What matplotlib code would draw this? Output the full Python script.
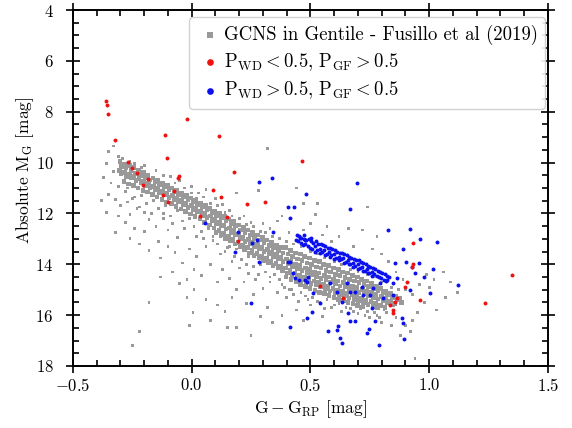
import numpy as np
import matplotlib.pyplot as plt
from matplotlib.ticker import MultipleLocator

plt.rcParams['font.family'] = 'cmr10'
plt.rcParams['mathtext.fontset'] = 'cm'
plt.rcParams['axes.formatter.use_mathtext'] = True
plt.rcParams['font.size'] = 12

# GCNS sample - dense main band (colour, abs mag)
gcns_core = [
    (-0.302, 9.95), (-0.296, 10.15), (-0.305, 10.30), (-0.298, 10.45),
    (-0.284, 10.05), (-0.276, 10.22), (-0.282, 10.38), (-0.275, 10.55), (-0.286, 10.75),
    (-0.263, 10.12), (-0.255, 10.30), (-0.261, 10.47), (-0.254, 10.60), (-0.265, 10.85),
    (-0.243, 10.20), (-0.236, 10.42), (-0.244, 10.55), (-0.235, 10.70), (-0.246, 10.90),
    (-0.224, 10.32), (-0.215, 10.50), (-0.222, 10.62), (-0.214, 10.80), (-0.226, 11.00),
    (-0.203, 10.40), (-0.196, 10.58), (-0.204, 10.73), (-0.194, 10.90), (-0.206, 11.10),
    (-0.184, 10.50), (-0.176, 10.68), (-0.183, 10.82), (-0.175, 10.98), (-0.186, 11.15),
    (-0.163, 10.60), (-0.155, 10.77), (-0.162, 10.93), (-0.154, 11.08), (-0.166, 11.25),
    (-0.143, 10.70), (-0.136, 10.86), (-0.144, 11.02), (-0.135, 11.18), (-0.146, 11.35),
    (-0.124, 10.80), (-0.115, 10.95), (-0.122, 11.12), (-0.114, 11.27), (-0.125, 11.45),
    (-0.103, 10.90), (-0.096, 11.05), (-0.104, 11.20), (-0.095, 11.37), (-0.106, 11.55),
    (-0.084, 11.00), (-0.075, 11.15), (-0.082, 11.30), (-0.074, 11.47), (-0.085, 11.62),
    (-0.063, 11.10), (-0.056, 11.25), (-0.064, 11.40), (-0.055, 11.55), (-0.066, 11.72),
    (-0.044, 11.20), (-0.035, 11.35), (-0.042, 11.50), (-0.034, 11.65), (-0.045, 11.82),
    (-0.023, 11.30), (-0.016, 11.45), (-0.024, 11.60), (-0.015, 11.76), (-0.026, 11.92),
    (-0.004, 11.40), (0.005, 11.55), (-0.002, 11.70), (0.006, 11.85), (-0.005, 12.02),
    (0.017, 11.50), (0.024, 11.65), (0.016, 11.80), (0.025, 11.95), (0.014, 12.12),
    (0.036, 11.60), (0.045, 11.75), (0.038, 11.90), (0.046, 12.07), (0.035, 12.22),
    (0.057, 11.70), (0.064, 11.86), (0.056, 12.00), (0.065, 12.17), (0.054, 12.35),
    (0.076, 11.80), (0.085, 11.96), (0.078, 12.10), (0.086, 12.27), (0.075, 12.45),
    (0.097, 11.90), (0.104, 12.08), (0.096, 12.25), (0.105, 12.40), (0.094, 12.58), (0.102, 12.75),
    (0.116, 12.00), (0.125, 12.18), (0.118, 12.35), (0.126, 12.50), (0.115, 12.68), (0.123, 12.85),
    (0.137, 12.12), (0.144, 12.30), (0.136, 12.48), (0.145, 12.62), (0.134, 12.80), (0.142, 12.98),
    (0.156, 12.22), (0.165, 12.40), (0.158, 12.58), (0.166, 12.75), (0.155, 12.90), (0.163, 13.08),
    (0.177, 12.32), (0.184, 12.50), (0.176, 12.68), (0.185, 12.85), (0.174, 13.02), (0.182, 13.20),
    (0.196, 12.45), (0.205, 12.65), (0.198, 12.82), (0.206, 12.98), (0.195, 13.15), (0.203, 13.32),
    (0.217, 12.55), (0.224, 12.75), (0.216, 12.92), (0.225, 13.10), (0.214, 13.25), (0.222, 13.42),
    (0.236, 12.65), (0.245, 12.85), (0.238, 13.02), (0.246, 13.20), (0.235, 13.35), (0.243, 13.55),
    (0.257, 12.75), (0.264, 12.95), (0.256, 13.12), (0.265, 13.30), (0.254, 13.47), (0.262, 13.65),
    (0.276, 12.85), (0.285, 13.05), (0.278, 13.22), (0.286, 13.40), (0.275, 13.57), (0.283, 13.75),
    (0.297, 12.95), (0.304, 13.15), (0.296, 13.32), (0.305, 13.50), (0.294, 13.67), (0.302, 13.85),
    (0.316, 13.05), (0.325, 13.25), (0.318, 13.42), (0.326, 13.60), (0.315, 13.77), (0.323, 13.95),
    (0.337, 13.15), (0.344, 13.35), (0.336, 13.52), (0.345, 13.70), (0.334, 13.87), (0.342, 14.05),
    (0.356, 13.25), (0.365, 13.45), (0.358, 13.62), (0.366, 13.80), (0.355, 13.97), (0.363, 14.15),
    (0.377, 13.35), (0.384, 13.55), (0.376, 13.72), (0.385, 13.90), (0.374, 14.07), (0.382, 14.25),
    (0.396, 13.35), (0.405, 13.60), (0.398, 13.80), (0.406, 13.98), (0.395, 14.15), (0.403, 14.35), (0.397, 14.50),
    (0.417, 13.45), (0.424, 13.70), (0.416, 13.90), (0.425, 14.08), (0.414, 14.25), (0.422, 14.45), (0.418, 14.60),
    (0.436, 13.55), (0.445, 13.80), (0.438, 14.00), (0.446, 14.18), (0.435, 14.35), (0.443, 14.52), (0.439, 14.70),
    (0.457, 13.60), (0.464, 13.85), (0.456, 14.05), (0.465, 14.25), (0.454, 14.42), (0.462, 14.60), (0.458, 14.80),
    (0.476, 13.70), (0.485, 13.95), (0.478, 14.15), (0.486, 14.32), (0.475, 14.50), (0.483, 14.68), (0.479, 14.88),
    (0.497, 13.75), (0.504, 14.00), (0.496, 14.20), (0.505, 14.40), (0.494, 14.58), (0.502, 14.75), (0.498, 14.95),
    (0.516, 13.85), (0.525, 14.10), (0.518, 14.30), (0.526, 14.48), (0.515, 14.65), (0.523, 14.82), (0.519, 15.02),
    (0.537, 13.90), (0.544, 14.15), (0.536, 14.35), (0.545, 14.55), (0.534, 14.72), (0.542, 14.90), (0.538, 15.10),
    (0.556, 14.00), (0.565, 14.25), (0.558, 14.45), (0.566, 14.62), (0.555, 14.80), (0.563, 14.97), (0.559, 15.15),
    (0.577, 14.05), (0.584, 14.30), (0.576, 14.50), (0.585, 14.70), (0.574, 14.87), (0.582, 15.05), (0.578, 15.22),
    (0.596, 14.15), (0.605, 14.40), (0.598, 14.60), (0.606, 14.77), (0.595, 14.95), (0.603, 15.12), (0.599, 15.30),
    (0.617, 14.20), (0.624, 14.45), (0.616, 14.65), (0.625, 14.85), (0.614, 15.02), (0.622, 15.20), (0.618, 15.38),
    (0.636, 14.30), (0.645, 14.52), (0.638, 14.72), (0.646, 14.90), (0.635, 15.08), (0.643, 15.25), (0.639, 15.42),
    (0.657, 14.35), (0.664, 14.60), (0.656, 14.80), (0.665, 14.97), (0.654, 15.15), (0.662, 15.32), (0.658, 15.50),
    (0.676, 14.45), (0.685, 14.65), (0.678, 14.85), (0.686, 15.03), (0.675, 15.20), (0.683, 15.38), (0.679, 15.55),
    (0.697, 14.50), (0.704, 14.72), (0.696, 14.92), (0.705, 15.10), (0.694, 15.27), (0.702, 15.45), (0.698, 15.62),
    (0.716, 14.60), (0.725, 14.80), (0.718, 15.00), (0.726, 15.17), (0.715, 15.35), (0.723, 15.52), (0.719, 15.68),
    (0.737, 14.65), (0.744, 14.88), (0.736, 15.05), (0.745, 15.22), (0.734, 15.40), (0.742, 15.58),
    (0.756, 14.75), (0.765, 14.95), (0.758, 15.12), (0.766, 15.30), (0.755, 15.47), (0.763, 15.65),
    (0.777, 14.85), (0.784, 15.02), (0.776, 15.20), (0.785, 15.37), (0.774, 15.55), (0.782, 15.72),
    (0.796, 14.95), (0.805, 15.10), (0.798, 15.27), (0.806, 15.45), (0.795, 15.62),
    (0.817, 15.05), (0.824, 15.20), (0.816, 15.35), (0.825, 15.52), (0.814, 15.70),
    (0.836, 15.15), (0.845, 15.30), (0.838, 15.45), (0.846, 15.60),
    (0.857, 15.25), (0.864, 15.40), (0.856, 15.55),
    (0.876, 15.35), (0.884, 15.50),
]

# GCNS sample - sparse scatter around the band
gcns_halo = [
    (-0.35, 9.55), (-0.33, 9.35), (-0.31, 9.75), (-0.36, 10.05), (-0.29, 9.85), (-0.26, 9.95),
    (-0.24, 10.05), (-0.21, 10.20), (-0.33, 10.35), (-0.37, 10.60), (-0.34, 10.80), (-0.31, 10.95),
    (-0.28, 11.15), (-0.35, 11.25), (-0.38, 11.50), (-0.32, 11.45), (-0.27, 11.55), (-0.30, 11.70),
    (-0.24, 11.35), (-0.22, 11.75), (-0.36, 11.95), (-0.31, 12.10), (-0.26, 12.05), (-0.20, 11.95),
    (-0.18, 12.25), (-0.28, 12.35), (-0.24, 12.60), (-0.32, 12.75), (-0.20, 12.70), (-0.15, 12.50),
    (-0.12, 12.20), (-0.10, 12.65), (-0.26, 13.00), (-0.22, 13.20), (-0.18, 13.45), (-0.14, 13.10),
    (-0.10, 13.30), (-0.06, 12.95), (-0.13, 13.75), (-0.07, 13.55), (-0.04, 13.95), (-0.01, 13.40),
    (0.02, 13.70), (-0.18, 15.50), (-0.13, 14.50), (-0.08, 14.30), (-0.05, 14.75), (-0.02, 14.60),
    (0.01, 14.20), (0.04, 14.45), (-0.02, 15.30), (0.01, 15.00), (0.06, 15.40), (0.005, 15.90),
    (-0.01, 16.40), (0.08, 16.20), (0.11, 15.60), (0.14, 15.85), (0.19, 16.50), (-0.22, 16.65),
    (-0.25, 17.20), (0.15, 16.50), (0.25, 16.80), (0.34, 16.30), (0.29, 16.05),
    (0.06, 13.30), (0.09, 13.05), (0.12, 13.60), (0.15, 13.35), (0.08, 14.00), (0.13, 14.20),
    (0.17, 13.90), (0.20, 14.15), (0.11, 14.70), (0.16, 14.55), (0.19, 15.00), (0.17, 15.30),
    (0.22, 14.70), (0.24, 14.35), (0.27, 14.60), (0.23, 15.55), (0.26, 15.20), (0.30, 14.95),
    (0.32, 15.70), (0.36, 15.10), (0.33, 14.50), (0.38, 14.80), (0.40, 15.30), (0.42, 15.00),
    (0.45, 15.45), (0.48, 15.25), (0.50, 15.60), (0.44, 15.80), (0.53, 15.45), (0.56, 15.75),
    (0.60, 15.60), (0.63, 15.85), (0.67, 15.75), (0.70, 15.95), (0.74, 15.85), (0.78, 16.00),
    (0.55, 16.05), (0.47, 16.20), (0.38, 16.00), (0.82, 15.90), (0.86, 16.10),
    (-0.05, 10.70), (0.00, 10.95), (0.03, 11.20), (0.06, 11.05), (0.10, 11.40), (0.13, 11.65),
    (0.16, 11.90), (0.19, 11.20), (0.22, 12.10), (0.25, 12.35), (0.28, 11.10), (0.30, 12.40),
    (0.33, 12.60), (0.36, 12.30), (0.38, 12.10), (0.41, 12.75), (0.44, 11.00), (0.47, 12.65),
    (0.50, 12.40), (0.53, 11.60), (0.55, 12.85), (0.57, 12.50), (0.59, 13.10), (0.62, 12.90),
    (0.66, 12.60), (0.68, 13.30), (0.72, 12.65), (0.74, 11.75), (0.76, 13.40), (0.78, 12.90),
    (0.80, 13.60), (0.83, 13.90), (0.32, 9.45), (0.47, 11.60), (0.52, 12.05),
    (0.86, 14.30), (0.89, 14.60), (0.90, 15.00), (0.93, 15.20), (0.96, 14.80), (0.98, 15.50),
    (1.00, 14.90), (1.03, 15.80), (1.06, 14.30), (1.07, 15.30), (1.12, 15.10), (0.95, 15.90),
    (0.93, 16.20), (0.92, 16.65), (0.94, 17.70), (0.90, 16.40), (0.88, 16.80), (0.99, 14.40),
    (1.02, 14.60), (1.09, 14.70), (0.84, 16.40), (0.80, 16.30), (0.75, 16.10),
    # fainter side of the band
    (-0.27, 11.00), (-0.25, 11.40), (-0.23, 11.80), (-0.21, 11.30), (-0.19, 11.60), (-0.17, 12.00),
    (-0.16, 11.50), (-0.14, 11.80), (-0.12, 12.00), (-0.11, 11.70), (-0.09, 12.10), (-0.08, 12.40),
    (-0.06, 11.90), (-0.04, 12.30), (-0.03, 12.60), (-0.01, 12.20), (0.01, 12.50), (0.02, 12.90),
    (0.04, 12.70), (0.05, 13.00), (0.07, 12.60), (0.09, 12.90), (0.11, 13.20), (0.12, 12.90),
    (0.14, 13.50), (0.16, 13.30), (0.18, 13.70), (0.19, 13.40), (0.21, 13.80), (0.23, 14.00),
    (0.24, 13.70), (0.26, 14.10), (0.28, 14.40), (0.29, 14.00), (0.31, 14.30), (0.33, 14.70),
    (0.35, 14.40), (0.37, 14.60), (0.39, 14.90), (0.41, 15.00), (0.43, 15.20), (0.46, 15.10),
    (0.49, 15.40), (0.51, 15.30), (0.54, 15.50), (0.57, 15.40), (0.59, 15.70), (0.62, 15.55),
    (0.65, 15.70), (0.68, 15.85), (0.71, 15.75), (0.73, 16.00), (0.77, 15.90), (0.79, 16.10),
    (0.81, 15.80),
    # brighter side of the band
    (-0.20, 10.10), (-0.15, 10.30), (-0.12, 10.50), (-0.09, 10.55), (-0.07, 10.80), (-0.03, 11.00),
    (0.00, 11.20), (0.02, 11.40), (0.05, 11.35), (0.08, 11.60), (0.11, 11.70), (0.14, 11.95),
    (0.17, 12.10), (0.20, 12.20), (0.23, 12.45), (0.26, 12.50), (0.29, 12.70), (0.31, 12.75),
    (0.34, 12.90), (0.37, 13.00), (0.40, 13.10), (0.43, 13.20), (0.46, 13.30), (0.50, 13.50),
    (0.53, 13.60), (0.56, 13.75), (0.60, 13.90), (0.63, 14.00), (0.67, 14.20), (0.70, 14.30),
    (0.74, 14.40), (0.77, 14.50), (0.80, 14.70), (0.84, 14.90), (0.87, 15.00),
]

# P_WD < 0.5, P_GF > 0.5
red_pts = [
    (-0.361, 7.58), (-0.358, 7.74), (-0.353, 8.07), (-0.323, 9.11), (-0.020, 8.29),
    (-0.113, 8.92), (0.115, 8.95), (-0.104, 9.82), (0.178, 10.37), (-0.268, 9.98),
    (-0.252, 10.21), (-0.231, 10.41), (-0.184, 10.65), (-0.054, 10.53), (-0.058, 10.61),
    (-0.205, 10.88), (-0.075, 11.12), (0.089, 11.08), (-0.121, 11.27), (-0.100, 11.55),
    (0.123, 11.35), (0.233, 11.63), (0.308, 11.55), (0.035, 12.10), (0.148, 12.14),
    (0.195, 13.08), (0.464, 9.94), (0.540, 14.87), (0.637, 15.33), (0.932, 13.16),
    (0.927, 14.11), (0.932, 13.98), (0.906, 14.70), (0.898, 14.89), (0.864, 15.33),
    (0.856, 15.48), (0.835, 15.60), (0.847, 15.80), (0.847, 15.92), (0.961, 15.40),
    (1.348, 14.42), (1.235, 15.52),
]

# P_WD > 0.5, P_GF < 0.5
blue_pts = [
    (0.338, 10.61), (0.283, 10.76), (0.696, 10.80), (0.481, 11.24), (0.405, 11.75),
    (0.431, 11.75), (0.666, 11.83), (0.414, 12.18), (0.826, 12.65), (0.919, 12.61),
    (0.961, 13.01), (1.033, 13.12), (0.889, 13.40), (0.856, 13.95), (0.902, 13.91),
    (0.957, 13.95), (1.016, 14.18), (0.978, 14.50), (1.121, 14.81), (1.003, 15.13),
    (0.919, 15.01), (0.864, 14.54), (0.847, 14.74), (0.927, 14.11), (0.940, 14.34),
    (0.056, 12.38), (0.195, 12.73), (0.182, 13.52), (0.254, 13.16), (0.275, 13.04),
    (0.283, 13.91), (0.342, 12.73), (0.405, 13.91), (0.456, 12.97), (0.477, 13.04),
    (0.414, 13.91), (0.426, 14.34), (0.452, 14.62), (0.477, 14.62), (0.489, 14.50),
    (0.249, 15.52), (0.414, 16.47), (0.485, 16.11), (0.506, 15.88), (0.540, 15.52),
    (0.574, 16.62), (0.616, 16.43), (0.612, 16.58), (0.624, 16.90), (0.633, 17.09),
    (0.658, 15.91), (0.666, 16.23), (0.687, 16.23), (0.738, 16.70), (0.746, 16.54),
    (0.772, 16.23), (0.759, 15.72), (0.788, 17.17), (0.885, 16.11), (0.889, 16.31),
    (0.894, 16.94), (0.805, 15.33), (0.847, 15.21), (0.511, 15.13), (0.582, 14.74),
    (0.612, 15.09), (0.633, 15.48), (0.666, 15.09), (0.687, 15.09), (0.717, 14.89),
    (0.721, 15.21), (0.751, 15.21), (0.763, 14.93), (0.793, 14.74), (0.822, 14.62),
    (0.654, 14.74), (0.435, 14.54), (0.485, 14.70),
    # the dense blue clump
    (0.442, 12.85), (0.438, 13.05), (0.452, 12.90), (0.449, 13.10), (0.462, 12.95),
    (0.458, 13.15), (0.473, 13.00), (0.468, 13.25), (0.471, 12.85), (0.482, 13.05),
    (0.478, 13.20), (0.492, 13.00), (0.488, 13.30), (0.503, 13.10), (0.498, 13.35),
    (0.501, 12.95), (0.512, 13.15), (0.508, 13.40), (0.523, 13.10), (0.518, 13.30),
    (0.521, 13.50), (0.532, 13.20), (0.528, 13.45), (0.543, 13.20), (0.538, 13.40),
    (0.541, 13.55), (0.552, 13.25), (0.548, 13.50), (0.563, 13.30), (0.558, 13.45),
    (0.561, 13.65), (0.572, 13.35), (0.568, 13.60), (0.583, 13.35), (0.578, 13.50),
    (0.581, 13.70), (0.592, 13.40), (0.588, 13.65), (0.603, 13.45), (0.598, 13.60),
    (0.601, 13.80), (0.612, 13.50), (0.608, 13.75), (0.623, 13.55), (0.618, 13.70),
    (0.621, 13.85), (0.632, 13.55), (0.628, 13.80), (0.643, 13.60), (0.638, 13.75),
    (0.641, 13.95), (0.652, 13.65), (0.648, 13.90), (0.663, 13.70), (0.658, 13.85),
    (0.661, 14.00), (0.672, 13.75), (0.668, 14.00), (0.683, 13.80), (0.678, 13.95),
    (0.681, 14.10), (0.692, 13.85), (0.688, 14.05), (0.703, 13.85), (0.698, 14.00),
    (0.701, 14.20), (0.712, 13.90), (0.708, 14.15), (0.723, 13.95), (0.718, 14.10),
    (0.721, 14.25), (0.732, 14.00), (0.728, 14.25), (0.743, 14.05), (0.738, 14.20),
    (0.741, 14.35), (0.752, 14.10), (0.748, 14.35), (0.763, 14.15), (0.758, 14.30),
    (0.761, 14.45), (0.772, 14.20), (0.768, 14.40), (0.783, 14.25), (0.778, 14.45),
    (0.792, 14.30), (0.788, 14.50), (0.803, 14.35), (0.798, 14.55), (0.812, 14.40),
    (0.808, 14.60), (0.823, 14.45), (0.818, 14.65), (0.831, 14.50),
]

core = np.array(gcns_core)
halo = np.array(gcns_halo)
gcns = np.vstack([core, halo])
gcns_sizes = np.r_[np.full(len(core), 11.0), np.full(len(halo), 4.0)]
red = np.array(red_pts)
blue = np.array(blue_pts)

fig = plt.figure(figsize=(5.72, 4.28), dpi=100)
ax = fig.add_axes([0.1276, 0.1449, 0.8304, 0.8317])

ax.scatter(gcns[:, 0], gcns[:, 1], marker='s', s=gcns_sizes, color='#999999', linewidths=0,
           label='GCNS in Gentile - Fusillo et al (2019)', zorder=1)
ax.scatter(red[:, 0], red[:, 1], marker='o', s=8, color='#ee1111', linewidths=0,
           label=r'$\mathrm{P_{WD}} < 0.5$, $\mathrm{P_{GF}} > 0.5$', zorder=3)
ax.scatter(blue[:, 0], blue[:, 1], marker='o', s=8, color='#0a10ee', linewidths=0,
           label=r'$\mathrm{P_{WD}} > 0.5$, $\mathrm{P_{GF}} < 0.5$', zorder=2)

ax.set_xlim(-0.5, 1.5)
ax.set_ylim(18, 4)
ax.xaxis.set_major_locator(MultipleLocator(0.5))
ax.xaxis.set_minor_locator(MultipleLocator(0.1))
ax.yaxis.set_major_locator(MultipleLocator(2))
ax.yaxis.set_minor_locator(MultipleLocator(0.5))
ax.tick_params(which='both', top=True, right=True, width=1.2, labelsize=12)
ax.tick_params(which='major', direction='inout', length=10)
ax.tick_params(which='minor', direction='in', length=4)
ax.tick_params(axis='y', which='major', pad=9)
ax.tick_params(axis='x', which='major', pad=3)
for sp in ax.spines.values():
    sp.set_linewidth(1.4)

ax.set_xlabel(r'$\mathrm{G} - \mathrm{G_{RP}}$ [mag]', fontsize=12.5, labelpad=3)
ax.set_ylabel(r'Absolute $\mathrm{M_G}$ [mag]', fontsize=12.5)
ax.yaxis.set_label_coords(-0.078, 0.551)

leg = ax.legend(loc='upper right', bbox_to_anchor=(0.994, 0.980), borderaxespad=0,
                fontsize=13.5, markerscale=1.7, handlelength=1.4,
                handletextpad=0.05, labelspacing=0.35, borderpad=0.4,
                fancybox=True, framealpha=0.9, edgecolor='#cccccc')

fig.savefig('out.png', dpi=100)
